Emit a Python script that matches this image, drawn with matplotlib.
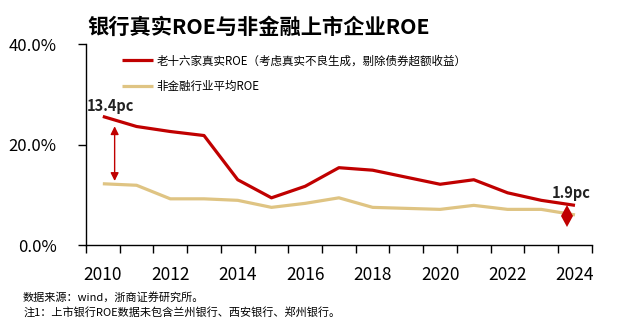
import matplotlib.pyplot as plt
from matplotlib.ticker import FixedLocator, FuncFormatter

plt.rcParams["font.family"] = ["Noto Sans CJK SC", "DejaVu Sans"]

YEARS = list(range(2010, 2025))

BANK_ROE = [25.6, 23.6, 22.6, 21.8, 13.0, 9.4, 11.7, 15.4,
            14.9, 13.5, 12.1, 13.0, 10.4, 8.9, 7.9]

NONFIN_ROE = [12.2, 11.9, 9.2, 9.2, 8.9, 7.5, 8.3, 9.4,
              7.5, 7.3, 7.1, 7.9, 7.1, 7.1, 6.0]

LABEL_BANK = "老十六家真实ROE（考虑真实不良生成，剔除债券超额收益）"
LABEL_NONFIN = "非金融行业平均ROE"

GAP_START = "13.4pc"
GAP_END = "1.9pc"

RED = "#C00000"
GOLD = "#DFC483"


def main() -> None:
    fig = plt.figure(figsize=(6.23, 3.22), dpi=100)
    ax = fig.add_axes([0.138, 0.239, 0.812, 0.624])

    idx = list(range(len(YEARS)))
    ax.plot(idx, BANK_ROE, color=RED, lw=2.3, label=LABEL_BANK,
            solid_capstyle="butt")
    ax.plot(idx, NONFIN_ROE, color=GOLD, lw=2.3, label=LABEL_NONFIN,
            solid_capstyle="butt")

    # gap markers
    ax.annotate("", xy=(0.35, NONFIN_ROE[0]), xytext=(0.35, BANK_ROE[0] - 1.4),
                arrowprops=dict(arrowstyle="<|-|>", color=RED, lw=1.0,
                                mutation_scale=12))
    ax.plot(13.75, NONFIN_ROE[-1] - 0.2, marker="d", color=RED,
            markersize=11, markeredgewidth=0)
    ax.text(-0.49, 27.7, GAP_START, fontsize=10.5,
            fontweight="bold", ha="left", va="center", color="#222222")
    ax.text(14.47, 10.3, GAP_END, fontsize=10.5,
            fontweight="bold", ha="right", va="center", color="#222222")

    ax.set_xlim(-0.5, len(YEARS) - 0.5)
    ax.set_ylim(0, 40)

    ax.xaxis.set_major_locator(FixedLocator([i - 0.5 for i in range(len(YEARS) + 1)]))
    ax.xaxis.set_major_formatter(FuncFormatter(lambda v, p: ""))
    ax.xaxis.set_minor_locator(FixedLocator(idx[::2]))
    ax.xaxis.set_minor_formatter(FuncFormatter(lambda v, p: str(YEARS[int(round(v))])))
    ax.tick_params(axis="x", which="major", length=6, width=1, direction="out")
    ax.tick_params(axis="x", which="minor", length=0, pad=15, labelsize=12.5)

    ax.set_yticks([0, 20, 40])
    ax.yaxis.set_major_formatter(FuncFormatter(lambda v, p: f"{v:.1f}%"))
    ax.tick_params(axis="y", length=6, width=1, pad=15, labelsize=12)

    for side in ["top", "right"]:
        ax.spines[side].set_visible(False)
    for side in ["left", "bottom"]:
        ax.spines[side].set_color("black")
        ax.spines[side].set_linewidth(1)

    ax.legend(loc="upper left", bbox_to_anchor=(0.05, 1.0), frameon=False,
              fontsize=8.3, handlelength=2.7, handletextpad=0.3,
              labelspacing=1.1)

    fig.text(0.14, 0.915, "银行真实ROE与非金融上市企业ROE", fontsize=15.3,
             fontweight="bold", ha="left", va="center")

    fig.text(0.037, 0.078, "数据来源：wind，浙商证券研究所。", fontsize=8,
             ha="left", va="center")
    fig.text(0.037, 0.030, "注1：上市银行ROE数据未包含兰州银行、西安银行、郑州银行。",
             fontsize=8, ha="left", va="center")

    fig.savefig("out.png", dpi=100)


if __name__ == "__main__":
    main()
